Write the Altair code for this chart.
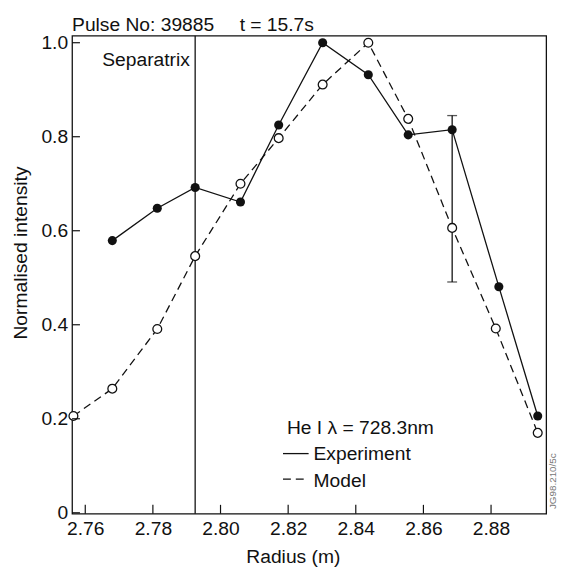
import altair as alt
import pandas as pd

# ---- data ----
radius_exp = [2.7680, 2.7813, 2.7925, 2.8059, 2.8172, 2.8302, 2.8437, 2.8555, 2.8685, 2.8823, 2.8938]
intensity_exp = [0.579, 0.648, 0.692, 0.661, 0.825, 1.000, 0.932, 0.804, 0.815, 0.481, 0.206]

radius_model = [2.7565, 2.7680, 2.7813, 2.7925, 2.8059, 2.8172, 2.8302, 2.8437, 2.8555, 2.8685, 2.8814, 2.8938]
intensity_model = [0.206, 0.264, 0.391, 0.546, 0.700, 0.797, 0.911, 1.000, 0.838, 0.606, 0.392, 0.170]

errbar_radius = [2.8685]
errbar_low = [0.491]
errbar_high = [0.845]

separatrix_radius = [2.7925]

x_ticks = [2.76, 2.78, 2.80, 2.82, 2.84, 2.86, 2.88]
y_ticks = [0.0, 0.2, 0.4, 0.6, 0.8, 1.0]

# ---- layout ----
W, H = 481, 485
FONT = "Liberation Sans"
FS = 19.5
INK = "#111111"

xscale = alt.Scale(domain=[2.7561, 2.8963], nice=False, zero=False)
yscale = alt.Scale(domain=[-0.002, 1.015], nice=False, zero=False)

xaxis = alt.Axis(values=x_ticks, format=".2f", ticks=False, domain=False, grid=False,
                 labelFont=FONT, labelFontSize=FS, labelColor=INK, labelPadding=6,
                 title="Radius (m)", titleFont=FONT, titleFontSize=FS, titleFontWeight="normal",
                 titleColor=INK, titleX=224, titleY=49, titleBaseline="alphabetic", titleAlign="center")
yaxis = alt.Axis(values=y_ticks, ticks=False, domain=False, grid=False,
                 labelExpr="datum.value == 0 ? '0' : format(datum.value, '.1f')",
                 labelFont=FONT, labelFontSize=FS, labelColor=INK, labelPadding=4.5,
                 title="Normalised intensity", titleFont=FONT, titleFontSize=FS, titleFontWeight="normal",
                 titleColor=INK, titleX=-46, titleY=220, titleBaseline="alphabetic",
                 titleAlign="center", titleAngle=270)


def X(field="r"):
    return alt.X(f"{field}:Q", scale=xscale, axis=xaxis)


def Y(field="v"):
    return alt.Y(f"{field}:Q", scale=yscale, axis=yaxis)


exp_df = pd.DataFrame({"r": radius_exp, "v": intensity_exp})
mod_df = pd.DataFrame({"r": radius_model, "v": intensity_model})
err_df = pd.DataFrame({"r": errbar_radius, "lo": errbar_low, "hi": errbar_high})
sep_df = pd.DataFrame({"r": separatrix_radius})
xt_df = pd.DataFrame({"r": x_ticks})
yt_df = pd.DataFrame({"v": y_ticks})

model_line = alt.Chart(mod_df).mark_line(color=INK, strokeWidth=1.3, strokeDash=[8, 5]).encode(x=X(), y=Y())
exp_line = alt.Chart(exp_df).mark_line(color=INK, strokeWidth=1.3).encode(x=X(), y=Y())

err_rule = alt.Chart(err_df).mark_rule(color=INK, strokeWidth=1.3).encode(
    x=X(), y=alt.Y("lo:Q", scale=yscale, axis=yaxis), y2="hi:Q")
err_lo = alt.Chart(err_df).mark_tick(color=INK, orient="horizontal", size=10, thickness=1.3).encode(
    x=X(), y=alt.Y("lo:Q", scale=yscale, axis=yaxis))
err_hi = alt.Chart(err_df).mark_tick(color=INK, orient="horizontal", size=10, thickness=1.3).encode(
    x=X(), y=alt.Y("hi:Q", scale=yscale, axis=yaxis))

model_pts = alt.Chart(mod_df).mark_point(shape="circle", filled=True, fill="white", stroke=INK,
                                         strokeWidth=1.3, size=80, opacity=1).encode(x=X(), y=Y())
exp_pts = alt.Chart(exp_df).mark_point(shape="circle", filled=True, color=INK, size=85,
                                       opacity=1).encode(x=X(), y=Y())

sep_rule = alt.Chart(sep_df).mark_rule(color=INK, strokeWidth=1.3).encode(x=X())

xtick_marks = alt.Chart(xt_df).mark_rule(color=INK, strokeWidth=1.2).encode(
    x=X(), y=alt.value(H), y2=alt.value(H - 9))
ytick_marks = alt.Chart(yt_df).mark_rule(color=INK, strokeWidth=1.2).encode(
    y=Y(), x=alt.value(0), x2=alt.value(8))


def label(text, x, y, align="left", size=FS, color=INK, angle=0, baseline="alphabetic"):
    return alt.Chart(pd.DataFrame({"t": [text]})).mark_text(
        font=FONT, fontSize=size, color=color, align=align, baseline=baseline, angle=angle
    ).encode(x=alt.value(x), y=alt.value(y), text="t:N")


texts = [
    label("Pulse No: 39885", 0, -5),
    label("t = 15.7s", 170, -5),
    label("Separatrix", 119.5, 31, align="right"),
    label("He I \u03bb = 728.3nm", 218, 404),
    label("Experiment", 245, 431),
    label("Model", 245, 458),
    label("JG98.210/5c", 491, 452, align="center", size=10, color="#777777", angle=270),
]

legend_solid = alt.Chart(pd.DataFrame({"k": [1]})).mark_rule(color=INK, strokeWidth=1.3).encode(
    x=alt.value(214), x2=alt.value(240), y=alt.value(424))
legend_dash = alt.Chart(pd.DataFrame({"k": [1]})).mark_rule(color=INK, strokeWidth=1.3,
                                                            strokeDash=[8, 5]).encode(
    x=alt.value(214), x2=alt.value(240), y=alt.value(450))

chart = alt.layer(
    exp_line, model_line, sep_rule, err_rule, err_lo, err_hi, model_pts, exp_pts,
    xtick_marks, ytick_marks, legend_solid, legend_dash, *texts
).properties(
    width=W, height=H,
    autosize=alt.AutoSizeParams(type="none"),
    padding={"left": 65, "top": 24, "right": 12, "bottom": 51},
    background="white",
).configure_view(stroke=INK, strokeWidth=1.3)

chart.save("out.html", embed_options={"renderer": "svg", "actions": False})
